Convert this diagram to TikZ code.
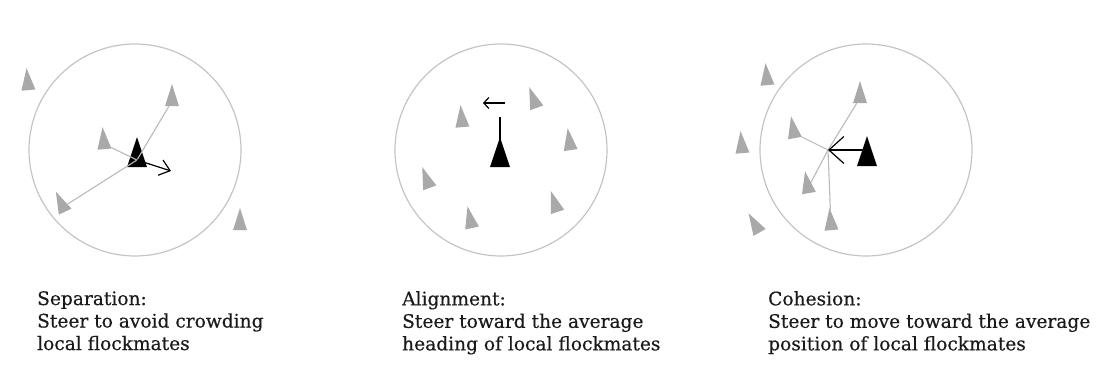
\documentclass[tikz,border=0pt]{standalone}
\usepackage{fontspec}
\setmainfont{DejaVu Serif}
\newfontfamily\capfont{DejaVu Serif}[FakeBold=0.4]
\usepackage{tikz}
\usetikzlibrary{arrows.meta,shapes.geometric}
\definecolor{boidGray}{HTML}{A9A9A9}
\definecolor{nbrLine}{HTML}{B9B9B9}
\definecolor{rangeRing}{HTML}{C4C4C4}
\definecolor{capText}{HTML}{1A1A1A}
\tikzset{
  boid/.style={isosceles triangle, isosceles triangle stretches, fill=boidGray, draw=none, inner sep=0pt, minimum width=14pt, minimum height=22pt, rotate=90},
  boidblk/.style={isosceles triangle, isosceles triangle stretches, fill=black, draw=none, inner sep=0pt, minimum width=20pt, minimum height=30pt, rotate=90},
  ring/.style={circle, draw=rangeRing, line width=1.2pt, minimum size=212pt, inner sep=0pt},
  nbr/.style={draw=nbrLine, line width=1.1pt},
  steer/.style={-{Straight Barb[length=10pt,width=16pt]}, draw=black, line width=1.2pt},
  caption/.style={anchor=north west, align=left, inner sep=0pt, text=capText, font=\capfont\fontsize{18.6}{22.5}\selectfont}
}
\begin{document}
\begin{tikzpicture}[x=1pt,y=1pt]
  \useasboundingbox (0,0) rectangle (1106,385);
  % separation
  \node[ring] (r1) at (135,235) {};
  \node[boid, rotate=5] (a1) at (28,300) {};
  \node[boid] (a2) at (172,284) {};
  \node[boid, rotate=5] (a3) at (104,241) {};
  \node[boid, rotate=25] (a4) at (63,178) {};
  \node[boid] (a5) at (240,160) {};
  \node[boidblk] (k1) at (137,225) {};
  \coordinate (s1) at (171,214);
  \draw[nbr] (k1.center) -- (a2);
  \draw[nbr] (k1.center) -- (a3);
  \draw[nbr] (k1.center) -- (a4);
  \draw[steer] (k1.center) -- (s1);
  \node[caption] (t1) at (37,94) {Separation:\\Steer to avoid crowding\\local flockmates};
  % alignment
  \node[ring] (r2) at (501,235) {};
  \node[boid, rotate=5] (b1) at (462,263) {};
  \node[boid, rotate=20] (b2) at (535,282) {};
  \node[boid, rotate=8] (b3) at (570,240) {};
  \node[boid, rotate=20] (b4) at (428,202) {};
  \node[boid, rotate=18] (b5) at (556,178) {};
  \node[boid, rotate=12] (b6) at (471,162) {};
  \node[boidblk] (k2) at (500,225) {};
  \coordinate (h2) at (500,268);
  \draw[line width=1.8pt] (k2.center) -- (h2);
  \coordinate (u2) at (505,282);
  \coordinate (v2) at (483,282);
  \draw[-{Straight Barb[length=5pt,width=11pt]}, line width=1.2pt] (u2) -- (v2);
  \node[caption] (t2) at (402,94) {Alignment:\\Steer toward the average\\heading of local flockmates};
  % cohesion
  \node[ring] (r3) at (866,235) {};
  \node[boid, rotate=5] (c1) at (767,305) {};
  \node[boid] (c2) at (860,287) {};
  \node[boid, rotate=10] (c3) at (794,252) {};
  \node[boid, rotate=5] (c4) at (742,237) {};
  \node[boid, rotate=10] (c5) at (808,197) {};
  \node[boid, rotate=30] (c6) at (757,157) {};
  \node[boid, rotate=5] (c7) at (831,160) {};
  \node[boidblk] (k3) at (867,226) {};
  \coordinate (m3) at (828,235);
  \draw[nbr] (m3) -- (c2);
  \draw[nbr] (m3) -- (c3);
  \draw[nbr] (m3) -- (c5);
  \draw[nbr] (m3) -- (c7);
  \draw[-{Straight Barb[length=15pt,width=27pt]}, line width=1.2pt] (k3.center |- m3) -- (m3);
  \node[caption] (t3) at (768,94) {Cohesion:\\Steer to move toward the average\\position of local flockmates};
\end{tikzpicture}
\end{document}
